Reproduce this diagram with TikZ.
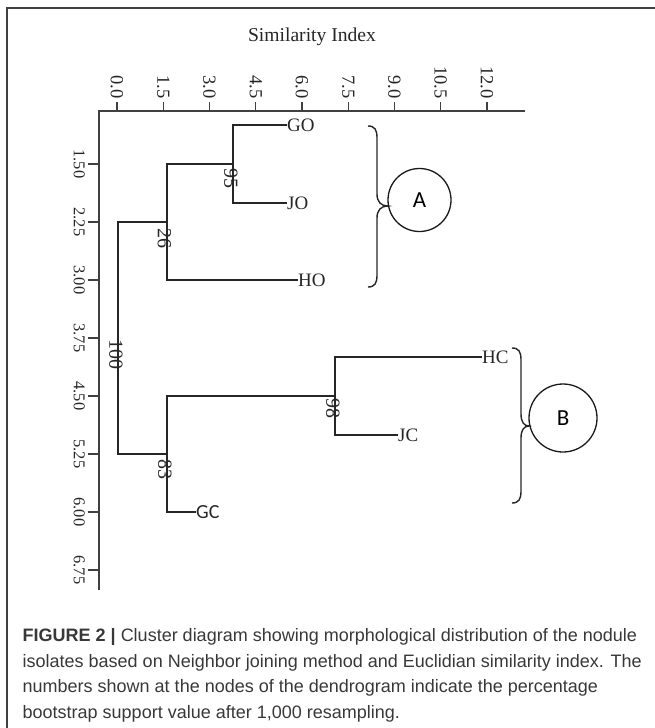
\documentclass[tikz,border=0pt]{standalone}
\usepackage{fontspec}
\setmainfont{Liberation Serif}
\newfontfamily\capfont{Liberation Sans}
\newfontfamily\calfont{Carlito}
\begin{document}
\begin{tikzpicture}[x=1pt,y=-1pt,
  tree/.style={line width=1.4pt, draw=black!85, line join=miter},
  axisline/.style={line width=1.4pt, draw=black!75},
  leaf/.style={anchor=west, inner sep=0pt, font=\fontsize{19}{19}\selectfont, text=black!85},
  boot/.style={rotate=-90, inner sep=0pt, font=\fontsize{20}{20}\selectfont, text=black!85},
  xtick/.style={rotate=-90, anchor=east, inner sep=0pt, font=\fontsize{18.5}{18.5}\selectfont, text=black!85},
  ytick/.style={rotate=-90, anchor=north, inner sep=0pt, font=\fontsize{16.5}{16.5}\selectfont, text=black!85},
  bracepath/.style={line width=1.4pt, draw=black!85},
  grp/.style={circle, draw=black!90, line width=1.3pt, inner sep=0pt, font=\calfont\fontsize{23}{23}\selectfont},
  captxt/.style={anchor=base west, inner sep=0pt, font=\capfont\fontsize{18}{18}\selectfont, text=black!78}
]
\useasboundingbox (0,0) rectangle (655,728);
% frame
\coordinate (fTR) at (655,8);
\coordinate (fTL) at (7,8);
\coordinate (fBL) at (7,728);
\draw[line width=2pt, draw=black!75] (fTR) -- (fTL) -- (fBL);

% title
\node[anchor=base, inner sep=0pt, font=\fontsize{19.6}{19.6}\selectfont, text=black!85] (title) at (312,41) {Similarity Index};

% axes
\coordinate (O) at (99,111);
\coordinate (xend) at (525,111);
\coordinate (yend) at (99,590);
\draw[axisline] (xend) -- (O) -- (yend);
\foreach \i/\t in {0/0.0,1/1.5,2/3.0,3/4.5,4/6.0,5/7.5,6/9.0,7/10.5,8/12.0}{
  \draw[axisline] (117+\i*46.25,102) -- (117+\i*46.25,111);
  \node[xtick] at (117+\i*46.25,99) {\t};
}
\foreach \i/\t in {0/1.50,1/2.25,2/3.00,3/3.75,4/4.50,5/5.25,6/6.00,7/6.75}{
  \draw[axisline] (88,164+\i*58) -- (99,164+\i*58);
  \node[ytick] at (85,164+\i*58) {\t};
}

% leaves
\node[leaf] (GO) at (287,125) {GO};
\node[leaf] (JO) at (287,203) {JO};
\node[leaf] (HO) at (298,280) {HO};
\node[leaf] (HC) at (482,357) {HC};
\node[leaf] (JC) at (398,435) {JC};
\node[leaf, font=\calfont\fontsize{20}{20}\selectfont] (GC) at (196,512) {GC};

% internal nodes
\coordinate (n95) at (233,164);
\coordinate (n26) at (167,222);
\coordinate (root) at (118,338);
\coordinate (n83) at (167,454);
\coordinate (n98) at (335,396);

\draw[tree] (GO.west) -| (n95) |- (JO.west);
\draw[tree] (n95) -| (n26) |- (HO.west);
\draw[tree] (n26) -| (root) |- (n83);
\draw[tree] (HC.west) -| (n98) |- (JC.west);
\draw[tree] (n98) -| (n83) |- (GC.west);

% bootstrap values
\node[boot] (b95) at (231,178) {95};
\node[boot] (b26) at (164.5,238) {26};
\node[boot] (b100) at (116,354) {100};
\node[boot] (b83) at (165,469) {83};
\node[boot] (b98) at (333,408) {98};

% braces
\draw[bracepath] (368,126) .. controls (375,126) and (377,130) .. (377,138) -- (377,194)
  .. controls (377,202) and (381,206) .. (388,206)
  .. controls (381,206) and (377,210) .. (377,218) -- (377,275)
  .. controls (377,283) and (375,287) .. (368,287);
\draw[bracepath] (512,348) .. controls (519,348) and (521,352) .. (521,360) -- (521,414)
  .. controls (521,422) and (524,426) .. (529,426)
  .. controls (524,426) and (521,430) .. (521,438) -- (521,491)
  .. controls (521,499) and (519,503) .. (512,503);

% group circles
\node[grp, minimum size=63pt] (A) at (419.5,200) {A};
\node[grp, minimum size=68pt] (B) at (563,418) {B};

% caption
\node[captxt] (c1) at (22.5,641) {\textbf{FIGURE 2 |} Cluster diagram showing morphological distribution of the nodule};
\node[captxt] (c2) at (22.5,667) {isolates based on Neighbor joining method and Euclidian similarity index. The};
\node[captxt] (c3) at (22.5,692.5) {numbers shown at the nodes of the dendrogram indicate the percentage};
\node[captxt] (c4) at (22.5,718) {bootstrap support value after 1,000 resampling.};
\end{tikzpicture}
\end{document}
